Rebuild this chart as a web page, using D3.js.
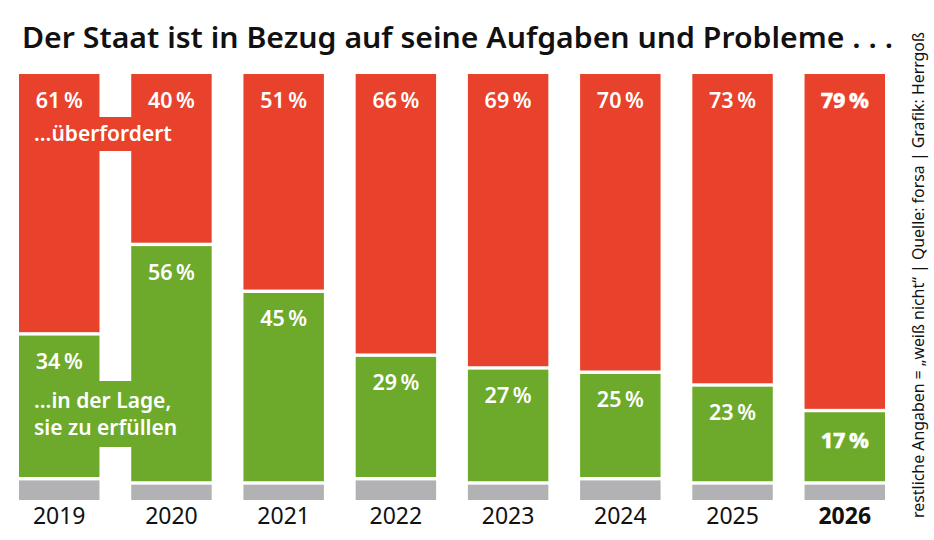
<!DOCTYPE html>
<html><head><meta charset="utf-8">
<script src="https://cdn.jsdelivr.net/npm/d3@7"></script>
<style>
html,body{margin:0;padding:0;background:#fff;}
svg{display:block;font-family:"Noto Sans","Open Sans",sans-serif;}
</style></head>
<body>
<svg id="chart" width="934" height="540"></svg>
<script>
const years = ["2019","2020","2021","2022","2023","2024","2025","2026"];
const ueberfordert = [61,40,51,66,69,70,73,79];
const inDerLage = [34,56,45,29,27,25,23,17];
const title = "Der Staat ist in Bezug auf seine Aufgaben und Probleme . . .";
const sourceNote = "restliche Angaben = \u201eweiß nicht\u201c  |  Quelle: forsa  |  Grafik: Herrgoß";
const labelRed = "...überfordert";
const labelGreen = ["...in der Lage,", "sie zu erfüllen"];
const highlightYear = "2026";

const RED = "#E8412C", GREEN = "#6DAA2B", GRAY = "#B2B1B3";
const svg = d3.select("#chart");
const x = d3.scaleBand().domain(years).range([19, 885]).paddingInner(0.283).paddingOuter(0);
const y = d3.scaleLinear().domain([0,100]).range([74, 500]);
const gap = 1.7;

const data = years.map((yr,i)=>({year:yr, red:ueberfordert[i], green:inDerLage[i], rest:100-ueberfordert[i]-inDerLage[i]}));

// title
svg.append("text").attr("x",22).attr("y",48).attr("font-size",28).attr("font-weight",600)
  .attr("fill","#111").attr("textLength",871).attr("lengthAdjust","spacingAndGlyphs").text(title);

// bridges for the 2019/2020 annotation
const bx0 = x("2019")+x.bandwidth(), bx1 = x("2020");
const redAnnY = 141;
svg.append("rect").attr("x",bx0-1).attr("width",bx1-bx0+2).attr("y",redAnnY-24).attr("height",34).attr("fill",RED);
const g1 = 408, g2 = 435;
svg.append("rect").attr("x",bx0-1).attr("width",bx1-bx0+2).attr("y",g1-27).attr("height",g2-g1+39).attr("fill",GREEN);

const bars = svg.selectAll("g.bar").data(data).join("g").attr("class","bar");
bars.append("rect").attr("x",d=>x(d.year)).attr("width",x.bandwidth())
  .attr("y",y(0)).attr("height",d=>y(d.red)-y(0)-gap).attr("fill",RED);
bars.append("rect").attr("x",d=>x(d.year)).attr("width",x.bandwidth())
  .attr("y",d=>y(d.red)+gap).attr("height",d=>y(d.red+d.green)-y(d.red)-2*gap).attr("fill",GREEN);
bars.append("rect").attr("x",d=>x(d.year)).attr("width",x.bandwidth())
  .attr("y",d=>y(d.red+d.green)+gap).attr("height",d=>y(100)-y(d.red+d.green)-gap).attr("fill",GRAY);

const pct = v => v + "\u2009%";
function styleVal(sel){
  sel.attr("text-anchor","middle").attr("fill","#fff").attr("font-size",21.5)
    .attr("font-weight",d=>d.year===highlightYear?800:600)
    .attr("stroke",d=>d.year===highlightYear?"#fff":"none")
    .attr("stroke-width",d=>d.year===highlightYear?0.4:0);
}
bars.append("text").attr("x",d=>x(d.year)+x.bandwidth()/2).attr("y",y(0)+33.5)
  .call(styleVal).text(d=>pct(d.red));
bars.append("text").attr("x",d=>x(d.year)+x.bandwidth()/2)
  .attr("y",d=>y(d.red)+gap+(d.year===highlightYear?35.5:33.5))
  .call(styleVal).text(d=>pct(d.green));

// year labels
bars.append("text").attr("x",d=>x(d.year)+x.bandwidth()/2).attr("y",524)
  .attr("text-anchor","middle").attr("fill","#111").attr("font-size",23)
  .attr("font-weight",d=>d.year===highlightYear?700:400).text(d=>d.year);

// annotations
const ax = x("2019")+15;
svg.append("text").attr("x",ax).attr("y",redAnnY).attr("fill","#fff").attr("font-size",21).attr("font-weight",600).text(labelRed);
svg.append("text").attr("x",ax).attr("y",g1).attr("fill","#fff").attr("font-size",21).attr("font-weight",600).text(labelGreen[0]);
svg.append("text").attr("x",ax).attr("y",g2).attr("fill","#fff").attr("font-size",21).attr("font-weight",600).text(labelGreen[1]);

// vertical source note
svg.append("text").attr("transform","translate(924,518) rotate(-90)")
  .attr("font-size",15.5).attr("fill","#111")
  .attr("textLength",486).attr("lengthAdjust","spacingAndGlyphs").text(sourceNote);
</script>
</body></html>
